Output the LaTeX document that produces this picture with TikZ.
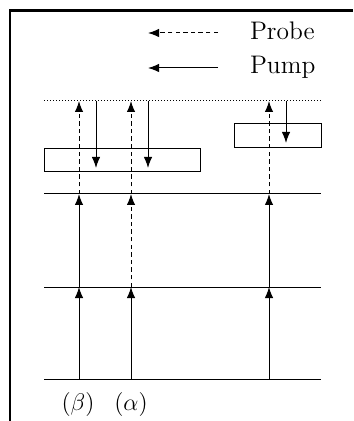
\documentclass[tikz,border=0pt]{standalone}
\usepackage{tikz}
\usetikzlibrary{arrows.meta, positioning}

\begin{document}
\begin{tikzpicture}[x=0.5pt,y=-0.5pt,
        pump/.style={-{Latex[length=5.5pt,width=4.2pt]},line width=0.5pt},
        probe/.style={pump,dash pattern=on 2.2pt off 1.6pt},
        level/.style={line width=0.5pt},
        virt/.style={line width=0.5pt,dash pattern=on 0.5pt off 1pt},
        band/.style={draw,line width=0.5pt,inner sep=0pt},
        lbl/.style={font=\fontsize{12.7pt}{15pt}\selectfont}]
        \useasboundingbox (0,0) rectangle (353,421);

        % frame (left and top only)
        \draw[line width=1.25pt] (10,421) -- (10,10.5) -- (353,10.5);

        % legend
        \coordinate (prb) at (218,33);
        \coordinate (pmp) at (218,68);
        \draw[probe] (prb) -- ++(-70,0);
        \draw[pump]  (pmp) -- ++(-70,0);
        \node[lbl,anchor=base west] (tprb) at (243,40) {Probe};
        \node[lbl,anchor=base west] (tpmp) at (243,74) {Pump};

        % levels
        \coordinate (g0) at (44,379);  \coordinate (h0) at (321,379);
        \coordinate (g1) at (44,287);  \coordinate (h1) at (321,287);
        \coordinate (g2) at (44,194);  \coordinate (h2) at (321,194);
        \coordinate (g3) at (44,101);  \coordinate (h3) at (321,101);
        \foreach \l in {0,1,2} \draw[level] (g\l) -- (h\l);
        \draw[virt] (g3) -- (h3);

        \node[band,minimum width=78pt,minimum height=11.5pt] (lbox) at (122,160.5) {};
        \node[band,minimum width=43.5pt,minimum height=12pt] (rbox) at (277.5,136) {};

        % columns: beta, alpha, right
        \foreach \c/\x in {b/79,a/131,c/269} {
          \coordinate (\c0) at (\x,379);
          \coordinate (\c1) at (\x,287);
          \coordinate (\c2) at (\x,194);
          \coordinate (\c3) at (\x,101);
        }
        \draw[pump]  (b0) -- (b1); \draw[pump]  (b1) -- (b2); \draw[probe] (b2) -- (b3);
        \draw[pump]  (a0) -- (a1); \draw[probe] (a1) -- (a2); \draw[probe] (a2) -- (a3);
        \draw[pump]  (c0) -- (c1); \draw[pump]  (c1) -- (c2); \draw[probe] (c2) -- (c3);

        % pump down into the bands
        \coordinate (d1) at (96,101);  \coordinate (e1) at (96,168);
        \coordinate (d2) at (148,101); \coordinate (e2) at (148,168);
        \coordinate (d3) at (286,101); \coordinate (e3) at (286,143);
        \foreach \i in {1,2,3} \draw[pump] (d\i) -- (e\i);

        \node[lbl] (beta)  at (78,404)  {$(\beta)$};
        \node[lbl] (alpha) at (131,404) {$(\alpha)$};
\end{tikzpicture}
\end{document}
